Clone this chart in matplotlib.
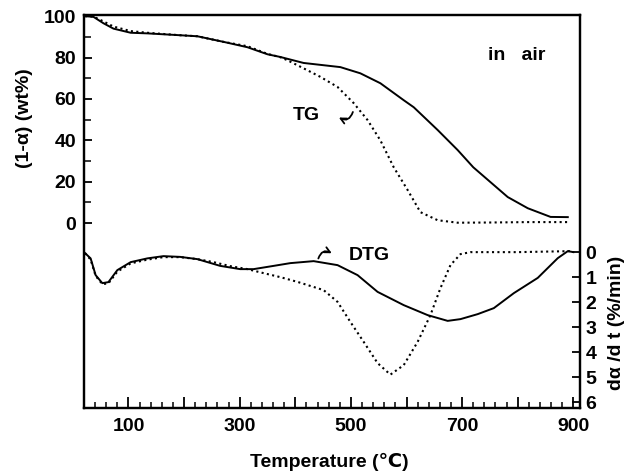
import matplotlib
matplotlib.use('Agg')
import matplotlib.pyplot as plt
from matplotlib.ticker import MultipleLocator, FuncFormatter

plt.rcParams['font.family'] = ['Liberation Sans', 'DejaVu Sans']
plt.rcParams['font.weight'] = 'bold'

# TG curves (left axis, wt%)
tg1_T = [22, 37, 55, 73, 104, 134, 193, 224, 271, 314, 350, 373, 415, 481, 517,
         553, 595, 613, 656, 692, 720, 782, 818, 859, 890]
tg1 = [100, 99.7, 96.6, 94, 92, 91.7, 90.8, 90.3, 87.6, 85, 81.6, 80.3, 77.4, 75.4, 72.4,
       67.6, 59.4, 56, 45, 35.3, 27, 12.6, 7.2, 3, 2.9]

tg2_T = [22, 37, 55, 73, 104, 134, 193, 224, 271, 314, 350, 373, 386, 415, 445, 476,
         505, 530, 553, 577, 602, 625, 656, 692, 750, 820, 890]
tg2 = [100, 99.8, 97.5, 95, 92.8, 92, 90.8, 90.3, 87.6, 85.5, 81.8, 80.2, 78.7, 74.8, 70.7, 65.8,
       58, 49.8, 40, 27, 16, 5.3, 1.4, 0.2, 0.3, 0.5, 0.5]

# DTG curves (right axis, %/min)
dtg1_T = [22, 32, 41, 53, 64, 80, 104, 134, 163, 193, 224, 265, 301, 325, 361, 391, 433,
          476, 512, 548, 595, 638, 674, 697, 728, 757, 793, 836, 872, 890, 900]
dtg1 = [0.04, 0.25, 0.92, 1.24, 1.2, 0.72, 0.4, 0.25, 0.16, 0.19, 0.28, 0.55, 0.68, 0.68, 0.55, 0.44, 0.36,
        0.52, 0.92, 1.59, 2.12, 2.52, 2.75, 2.68, 2.48, 2.24, 1.64, 1.03, 0.24, -0.04, 0]

dtg2_T = [22, 32, 41, 53, 64, 80, 104, 134, 163, 193, 224, 253, 283, 314, 343, 373, 404,
          451, 476, 499, 523, 548, 571, 595, 620, 643, 661, 679, 697, 715, 800, 895]
dtg2 = [0.04, 0.3, 0.95, 1.28, 1.25, 0.78, 0.45, 0.3, 0.2, 0.2, 0.28, 0.4, 0.56, 0.68, 0.84, 1.0, 1.19,
        1.52, 1.99, 2.79, 3.59, 4.44, 4.9, 4.52, 3.59, 2.52, 1.44, 0.52, 0.08, 0.0, 0.0, -0.04]

fig = plt.figure(figsize=(6.36, 4.74), dpi=100)
ax = fig.add_axes([0.132, 0.139, 0.780, 0.829])
ax2 = ax.twinx()

dots = (0, (1, 1.6))
ax.plot(tg1_T, tg1, color='black', lw=1.4)
ax.plot(tg2_T, tg2, color='black', lw=1.5, linestyle=dots)
ax2.plot(dtg1_T, dtg1, color='black', lw=1.4)
ax2.plot(dtg2_T, dtg2, color='black', lw=1.5, linestyle=dots)

ax.set_xlim(20, 912)
ax.set_ylim(-89.4, 100.5)
ax2.set_ylim(6.24, -9.48)

ax.xaxis.set_major_locator(MultipleLocator(100))
ax.xaxis.set_minor_locator(MultipleLocator(20))
ax.xaxis.set_major_formatter(FuncFormatter(lambda v, p: '%d' % v if int(round(v)) % 200 == 100 else ''))
ax.set_yticks(range(0, 101, 20))
ax.set_yticks(range(10, 100, 20), minor=True)
ax2.set_yticks(range(0, 7))

ax.tick_params(axis='x', which='major', direction='in', length=8, width=1.3, pad=7, labelsize=14, top=False)
ax.tick_params(axis='x', which='minor', direction='in', length=4, width=1.1, top=False)
ax.tick_params(axis='y', which='major', direction='in', length=6, width=1.3, pad=5.5, labelsize=14)
ax.tick_params(axis='y', which='minor', direction='in', length=5, width=1.1)
ax2.tick_params(axis='y', which='major', direction='in', length=6, width=1.3, pad=4, labelsize=14)

for a in (ax, ax2):
    for s in a.spines.values():
        s.set_linewidth(1.6)

ax.set_xlabel('Temperature (\u2103)', fontsize=14, fontweight='bold')
ax.xaxis.set_label_coords(0.494, -0.115)
ax.set_ylabel('(1-\u03b1) (wt%)', fontsize=14, fontweight='bold')
ax.yaxis.set_label_coords(-0.103, 0.738)
ax2.set_ylabel('d\u03b1 /d t (%/min)', fontsize=14, fontweight='bold')
ax2.yaxis.set_label_coords(1.057, 0.216)

ax.text(798, 81, 'in   air', fontsize=14, fontweight='bold', ha='center', va='center')
ax.text(420, 52, 'TG', fontsize=14, fontweight='bold', ha='center', va='center')
ax.annotate('', xy=(474, 51.7), xytext=(505, 55),
            arrowprops=dict(arrowstyle='->', lw=1.3, color='black',
                            connectionstyle='arc3,rad=-0.7'))
ax2.text(533, 0.12, 'DTG', fontsize=14, fontweight='bold', ha='center', va='center')
ax2.annotate('', xy=(470, 0.1), xytext=(440, 0.36),
             arrowprops=dict(arrowstyle='->', lw=1.3, color='black',
                             connectionstyle='arc3,rad=-0.7'))

fig.savefig('out.png', dpi=100)
